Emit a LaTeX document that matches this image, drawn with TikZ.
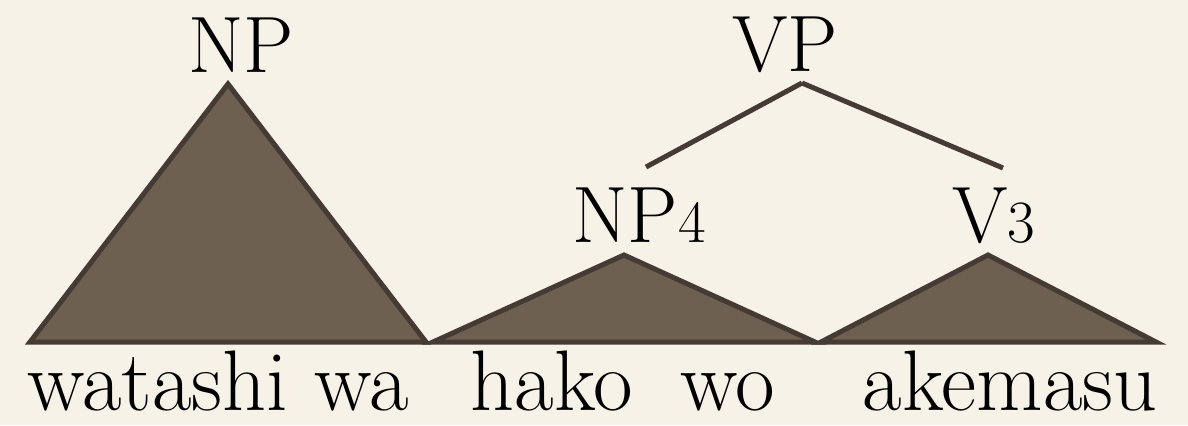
\documentclass[tikz,border=0pt]{standalone}
\usepackage{fontspec}
\usetikzlibrary{positioning}

\definecolor{paper}{HTML}{F6F2E7}
\definecolor{bark}{HTML}{6E6050}
\definecolor{edgeline}{HTML}{463B34}
\newcommand\catsub[1]{{\fontsize{30}{30}\selectfont\oldstylenums{#1}}}

\begin{document}
\begin{tikzpicture}[
  x=0.5pt, y=-0.5pt,
  cat/.style={inner sep=0pt, anchor=base, font=\fontsize{40}{48}\selectfont},
  word/.style={inner sep=0pt, anchor=base, text depth=0pt, font=\fontsize{43}{50}\selectfont},
  tri/.style={draw=edgeline, fill=bark, line width=2.5pt, line join=miter},
  branch/.style={draw=edgeline, line width=2.5pt}
]
\fill[paper] (0,0) rectangle (1188,425);
\useasboundingbox (0,0) rectangle (1188,425);

\node[cat] (NP) at (241,72) {NP};
\node[cat] (VP) at (785,71) {VP};
\node[cat, anchor=base west] (NPiv)  at (572,242) {NP\catsub{4}};
\node[cat, anchor=base west] (Viii)  at (952,242) {V\catsub{3}};

\node[word] (watashi) at (218,410) {watashi wa};
\node[word] (hako)    at (623,410) {hako\hspace{0.55em}wo};
\node[word] (akemasu) at (1010,410) {akemasu};

\coordinate (NPhead)   at (228,84);
\coordinate (VPfoot)   at (802,83);
\coordinate (NPivtop)  at (646,167);
\coordinate (Viiitop)  at (1003,168);
\coordinate (NPivhead) at (624,255);
\coordinate (Viiihead) at (988,255);

\draw[tri] (NPhead) -- (30,342) -- (426,342) -- cycle;
\draw[tri] (NPivhead) -- (433,342) -- (815,342) -- cycle;
\draw[tri] (Viiihead) -- (821,342) -- (1156,342) -- cycle;

\draw[branch] (VPfoot) -- (NPivtop);
\draw[branch] (VPfoot) -- (Viiitop);
\end{tikzpicture}
\end{document}
